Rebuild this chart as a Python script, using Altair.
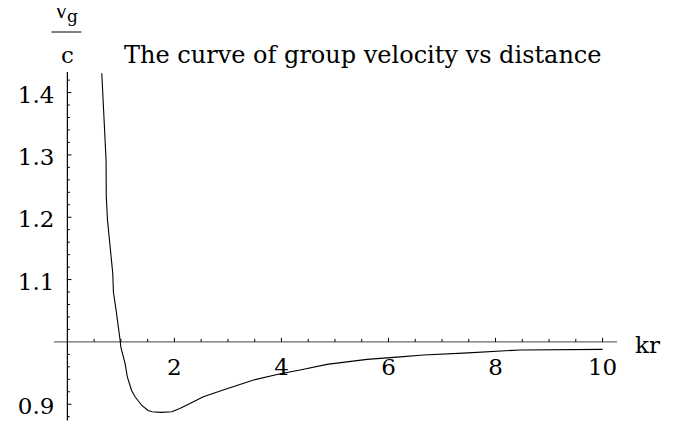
import altair as alt
import pandas as pd

# ---- data ----
kr = [0.643, 0.723, 0.727, 0.75, 0.848, 0.86, 0.91, 0.985, 1.0, 1.079, 1.12, 1.2,
      1.265, 1.39, 1.51, 1.58, 1.75, 1.95, 2.1, 2.29, 2.54, 2.98, 3.48, 3.98,
      4.35, 4.85, 5.6, 6.22, 6.65, 7.4, 8.46, 10.0]
vg = [1.431, 1.291, 1.233, 1.195, 1.110, 1.080, 1.051, 1.003, 0.991, 0.965, 0.944, 0.922,
      0.912, 0.898, 0.890, 0.888, 0.887, 0.888, 0.893, 0.901, 0.912, 0.925, 0.939, 0.949,
      0.955, 0.964, 0.972, 0.976, 0.979, 0.982, 0.987, 0.988]

x_major = [2, 4, 6, 8, 10]
x_labels = ["2", "4", "6", "8", "10"]
x_minor = [0.5, 1, 1.5, 2.5, 3, 3.5, 4.5, 5, 5.5, 6.5, 7, 7.5, 8.5, 9, 9.5]
y_major = [0.9, 1.1, 1.2, 1.3, 1.4]
y_labels = ["0.9", "1.1", "1.2", "1.3", "1.4"]
y_minor = [0.88, 0.92, 0.94, 0.96, 0.98, 1.02, 1.04, 1.06, 1.08, 1.12, 1.14, 1.16,
           1.18, 1.22, 1.24, 1.26, 1.28, 1.32, 1.34, 1.36, 1.38, 1.42]

title_text = "The curve of group velocity vs distance"
x_title = "kr"
y_num, y_sub, y_den = "v", "g", "c"

x_domain = [-0.25, 10.27]
y_domain = [0.8715, 1.433]
axis_x_end = 10.27
axis_y_low, axis_y_high = 0.874, 1.433
cross_y = 1.0
cross_x = 0.0

FONT = "DejaVu Serif"

xs = alt.Scale(domain=x_domain, nice=False, zero=False)
ys = alt.Scale(domain=y_domain, nice=False, zero=False)

curve = pd.DataFrame({"kr": kr, "vg": vg})
xmaj = pd.DataFrame({"t": x_major, "lab": x_labels})
xmin = pd.DataFrame({"t": x_minor})
ymaj = pd.DataFrame({"t": y_major, "lab": y_labels})
ymin = pd.DataFrame({"t": y_minor})
one = pd.DataFrame({"a": [0]})


def XD(v):
    return alt.XDatum(v, scale=xs, axis=None)


def YD(v):
    return alt.YDatum(v, scale=ys, axis=None)


x_axis_line = alt.Chart(one).mark_rule(color="#6a6a6a", strokeWidth=1.2).encode(
    x=XD(x_domain[0]), x2=alt.datum(axis_x_end), y=YD(cross_y))
y_axis_line = alt.Chart(one).mark_rule(color="black", strokeWidth=1.2).encode(
    x=XD(cross_x), y=YD(axis_y_low), y2=alt.datum(axis_y_high))

x_ticks_major = alt.Chart(xmaj).mark_rule(color="black", y2Offset=-4).encode(
    x=alt.X("t:Q", scale=xs, axis=None), y=YD(cross_y), y2=alt.datum(cross_y))
x_ticks_minor = alt.Chart(xmin).mark_rule(color="black", y2Offset=-3).encode(
    x=alt.X("t:Q", scale=xs, axis=None), y=YD(cross_y), y2=alt.datum(cross_y))
y_ticks_major = alt.Chart(ymaj).mark_rule(color="black", x2Offset=4).encode(
    y=alt.Y("t:Q", scale=ys, axis=None), x=XD(cross_x), x2=alt.datum(cross_x))
y_ticks_minor = alt.Chart(ymin).mark_rule(color="black", x2Offset=2.5).encode(
    y=alt.Y("t:Q", scale=ys, axis=None), x=XD(cross_x), x2=alt.datum(cross_x))

x_tick_labels = alt.Chart(xmaj).mark_text(
    font=FONT, fontSize=23, color="black", align="center", baseline="alphabetic", dy=33
).encode(x=alt.X("t:Q", scale=xs, axis=None), y=YD(cross_y), text="lab:N")
y_tick_labels = alt.Chart(ymaj).mark_text(
    font=FONT, fontSize=23, color="black", align="right", baseline="alphabetic", dx=-13, dy=10
).encode(y=alt.Y("t:Q", scale=ys, axis=None), x=XD(cross_x), text="lab:N")

line = alt.Chart(curve).mark_line(color="black", strokeWidth=1.1).encode(
    x=alt.X("kr:Q", scale=xs, axis=None), y=alt.Y("vg:Q", scale=ys, axis=None))

kr_label = alt.Chart(one).mark_text(
    font=FONT, fontSize=23, color="black", align="left", baseline="alphabetic", dx=18, dy=11
).encode(x=XD(axis_x_end), y=YD(cross_y), text=alt.value(x_title))

title = alt.Chart(one).mark_text(
    font=FONT, fontSize=24, color="black", align="left", baseline="alphabetic"
).encode(x=alt.value(70), y=alt.value(-9), text=alt.value(title_text))

v_txt = alt.Chart(one).mark_text(
    font=FONT, fontSize=20, color="black", align="center", baseline="alphabetic", dx=-6
).encode(x=XD(cross_x), y=alt.value(-54), text=alt.value(y_num))
g_txt = alt.Chart(one).mark_text(
    font=FONT, fontSize=17, color="black", align="center", baseline="alphabetic", dx=5
).encode(x=XD(cross_x), y=alt.value(-50), text=alt.value(y_sub))
frac_bar = alt.Chart(one).mark_rule(color="black", strokeWidth=1, xOffset=-16, x2Offset=14).encode(
    x=XD(cross_x), x2=alt.datum(cross_x), y=alt.value(-40))
c_txt = alt.Chart(one).mark_text(
    font=FONT, fontSize=23, color="black", align="center", baseline="alphabetic", dx=0
).encode(x=XD(cross_x), y=alt.value(-9), text=alt.value(y_den))

chart = alt.layer(
    x_axis_line, y_axis_line, x_ticks_minor, x_ticks_major, y_ticks_minor, y_ticks_major,
    x_tick_labels, y_tick_labels, line, kr_label, title, v_txt, g_txt, frac_bar, c_txt
).properties(
    width=563, height=350,
    autosize=alt.AutoSizeParams(type="none"),
    padding={"left": 46, "top": 64, "right": 52, "bottom": 0},
).configure_view(stroke=None).configure_axis(disable=True)

chart.save("out.html", embed_options={"renderer": "svg", "actions": False})
